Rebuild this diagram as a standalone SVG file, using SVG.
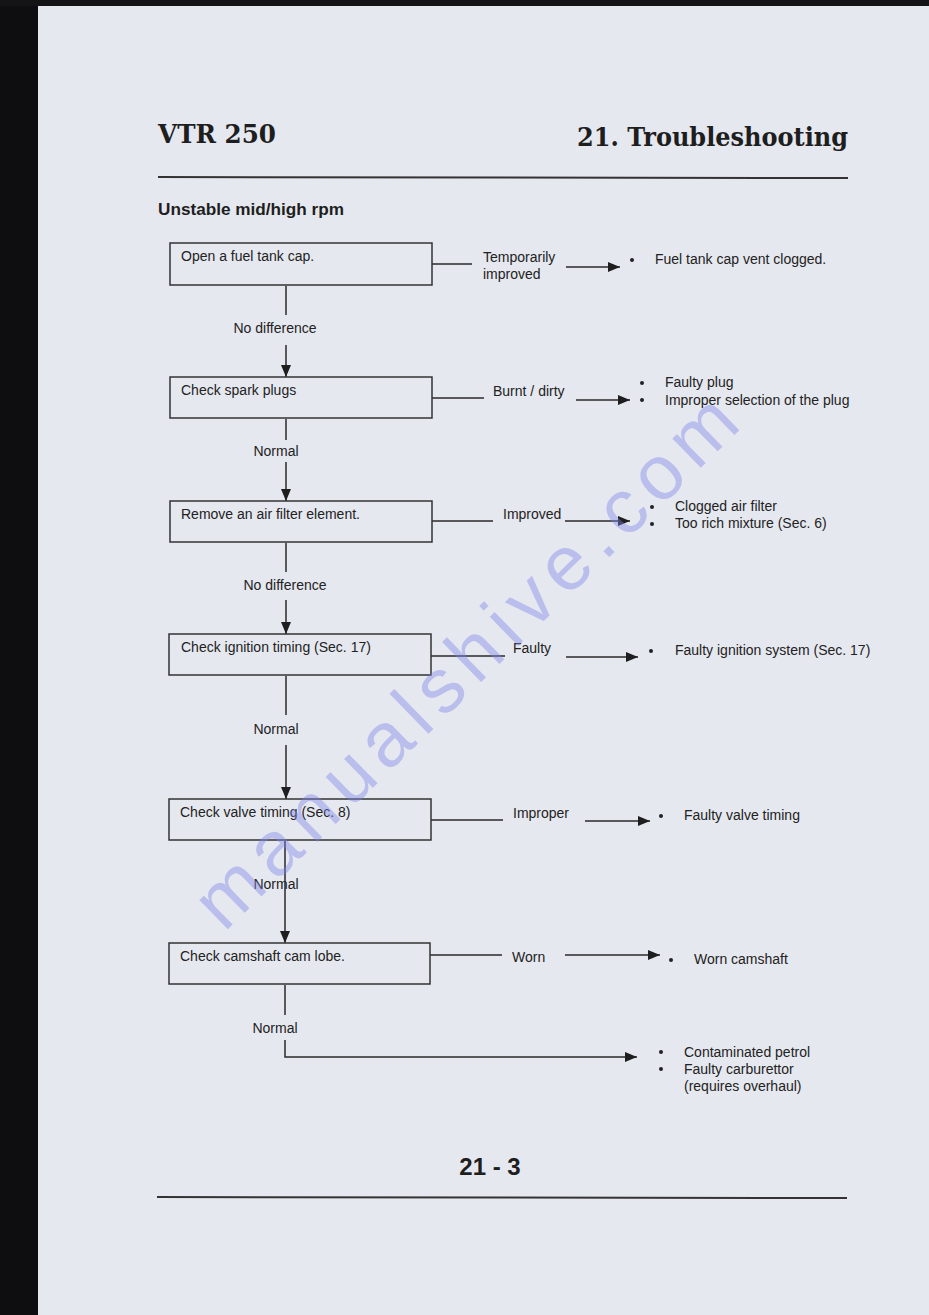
<svg xmlns="http://www.w3.org/2000/svg" width="929" height="1315" viewBox="0 0 929 1315">
<style>
.t{font-family:"Liberation Sans",Arial,sans-serif;font-size:14px;fill:#222}
.box{fill:none;stroke:#333;stroke-width:1.5}
.ln{fill:none;stroke:#2a2a2a;stroke-width:1.5}
.hd{font-family:"DejaVu Serif","Liberation Serif",serif;font-weight:bold;font-size:26px;fill:#1e1e1e}
.bul{fill:#222}
</style>
<defs>
<marker id="ah" viewBox="0 0 12 10" refX="12" refY="5" markerWidth="12" markerHeight="10" markerUnits="userSpaceOnUse" orient="auto">
<path d="M0 0L12 5L0 10Z" fill="#1e1e1e"/>
</marker>
</defs>
<rect x="0" y="0" width="929" height="1315" fill="#e6e8ef"/>
<rect x="0" y="0" width="38" height="1315" fill="#0e0e10"/>
<rect x="0" y="0" width="929" height="6" fill="#141416"/>

<g id="header">
<text class="hd" x="158" y="143" textLength="118" lengthAdjust="spacingAndGlyphs">VTR 250</text>
<text class="hd" x="577" y="146" textLength="271" lengthAdjust="spacingAndGlyphs">21. Troubleshooting</text>
<line x1="158" y1="177" x2="848" y2="178" stroke="#333" stroke-width="2"/>
<text x="158" y="215" font-family="Liberation Sans,Arial,sans-serif" font-weight="bold" font-size="16" fill="#1e1e1e" textLength="186" lengthAdjust="spacingAndGlyphs">Unstable mid/high rpm</text>
</g>

<g id="connectors">
<path class="ln" d="M286 286V315"/>
<path class="ln" d="M286 345V377" marker-end="url(#ah)"/>
<text class="t" x="275" y="333" text-anchor="middle">No difference</text>
<path class="ln" d="M286 419V440"/>
<path class="ln" d="M286 462V501" marker-end="url(#ah)"/>
<text class="t" x="276" y="456" text-anchor="middle">Normal</text>
<path class="ln" d="M286 543V572"/>
<path class="ln" d="M286 600V634" marker-end="url(#ah)"/>
<text class="t" x="285" y="590" text-anchor="middle">No difference</text>
<path class="ln" d="M286 676V715"/>
<path class="ln" d="M286 745V799" marker-end="url(#ah)"/>
<text class="t" x="276" y="734" text-anchor="middle">Normal</text>
<path class="ln" d="M285 841V943" marker-end="url(#ah)"/>
<text class="t" x="276" y="889" text-anchor="middle">Normal</text>
<path class="ln" d="M285 985V1015"/>
<path class="ln" d="M285 1040V1057H637" marker-end="url(#ah)"/>
<text class="t" x="275" y="1033" text-anchor="middle">Normal</text>

<path class="ln" d="M432 264H472"/>
<path class="ln" d="M566 267H620" marker-end="url(#ah)"/>
<text class="t" x="483" y="262">Temporarily</text>
<text class="t" x="483" y="279">improved</text>
<path class="ln" d="M432 398H484"/>
<path class="ln" d="M576 400H630" marker-end="url(#ah)"/>
<text class="t" x="493" y="396">Burnt / dirty</text>
<path class="ln" d="M432 521H493"/>
<path class="ln" d="M565 521H630" marker-end="url(#ah)"/>
<text class="t" x="503" y="519">Improved</text>
<path class="ln" d="M431 656H505"/>
<path class="ln" d="M566 657H638" marker-end="url(#ah)"/>
<text class="t" x="513" y="653">Faulty</text>
<path class="ln" d="M431 820H503"/>
<path class="ln" d="M585 821H650" marker-end="url(#ah)"/>
<text class="t" x="513" y="818">Improper</text>
<path class="ln" d="M430 955H502"/>
<path class="ln" d="M565 955H660" marker-end="url(#ah)"/>
<text class="t" x="512" y="962">Worn</text>
</g>

<g id="n1"><rect class="box" x="170" y="243" width="262" height="42"/><text class="t" x="181" y="261">Open a fuel tank cap.</text></g>
<g id="n2"><rect class="box" x="170" y="377" width="262" height="41"/><text class="t" x="181" y="395">Check spark plugs</text></g>
<g id="n3"><rect class="box" x="170" y="501" width="262" height="41"/><text class="t" x="181" y="519">Remove an air filter element.</text></g>
<g id="n4"><rect class="box" x="169" y="634" width="262" height="41"/><text class="t" x="181" y="652">Check ignition timing (Sec. 17)</text></g>
<g id="n5"><rect class="box" x="169" y="799" width="262" height="41"/><text class="t" x="180" y="817">Check valve timing (Sec. 8)</text></g>
<g id="n6"><rect class="box" x="169" y="943" width="261" height="41"/><text class="t" x="180" y="961">Check camshaft cam lobe.</text></g>

<g id="r1"><circle class="bul" cx="632" cy="260" r="2"/><text class="t" x="655" y="264">Fuel tank cap vent clogged.</text></g>
<g id="r2"><circle class="bul" cx="642" cy="383" r="2"/><circle class="bul" cx="642" cy="400" r="2"/><text class="t" x="665" y="387">Faulty plug</text><text class="t" x="665" y="405">Improper selection of the plug</text></g>
<g id="r3"><circle class="bul" cx="652" cy="507" r="2"/><circle class="bul" cx="652" cy="524" r="2"/><text class="t" x="675" y="511">Clogged air filter</text><text class="t" x="675" y="528">Too rich mixture (Sec. 6)</text></g>
<g id="r4"><circle class="bul" cx="651" cy="651" r="2"/><text class="t" x="675" y="655">Faulty ignition system (Sec. 17)</text></g>
<g id="r5"><circle class="bul" cx="661" cy="816" r="2"/><text class="t" x="684" y="820">Faulty valve timing</text></g>
<g id="r6"><circle class="bul" cx="671" cy="960" r="2"/><text class="t" x="694" y="964">Worn camshaft</text></g>
<g id="r7"><circle class="bul" cx="661" cy="1052" r="2"/><circle class="bul" cx="661" cy="1069" r="2"/><text class="t" x="684" y="1057">Contaminated petrol</text><text class="t" x="684" y="1074">Faulty carburettor</text><text class="t" x="684" y="1091">(requires overhaul)</text></g>

<g id="footer">
<text x="490" y="1175" text-anchor="middle" font-family="Liberation Sans,Arial,sans-serif" font-weight="bold" font-size="24" fill="#1e1e1e">21 - 3</text>
<line x1="157" y1="1197" x2="847" y2="1198" stroke="#333" stroke-width="2"/>
</g>

<text x="224" y="933" transform="rotate(-44.3 224 933)" font-family="Liberation Sans,Arial,sans-serif" font-size="77" fill="#7f84ea" fill-opacity="0.42" textLength="725" lengthAdjust="spacing">manualshive.com</text>
</svg>
